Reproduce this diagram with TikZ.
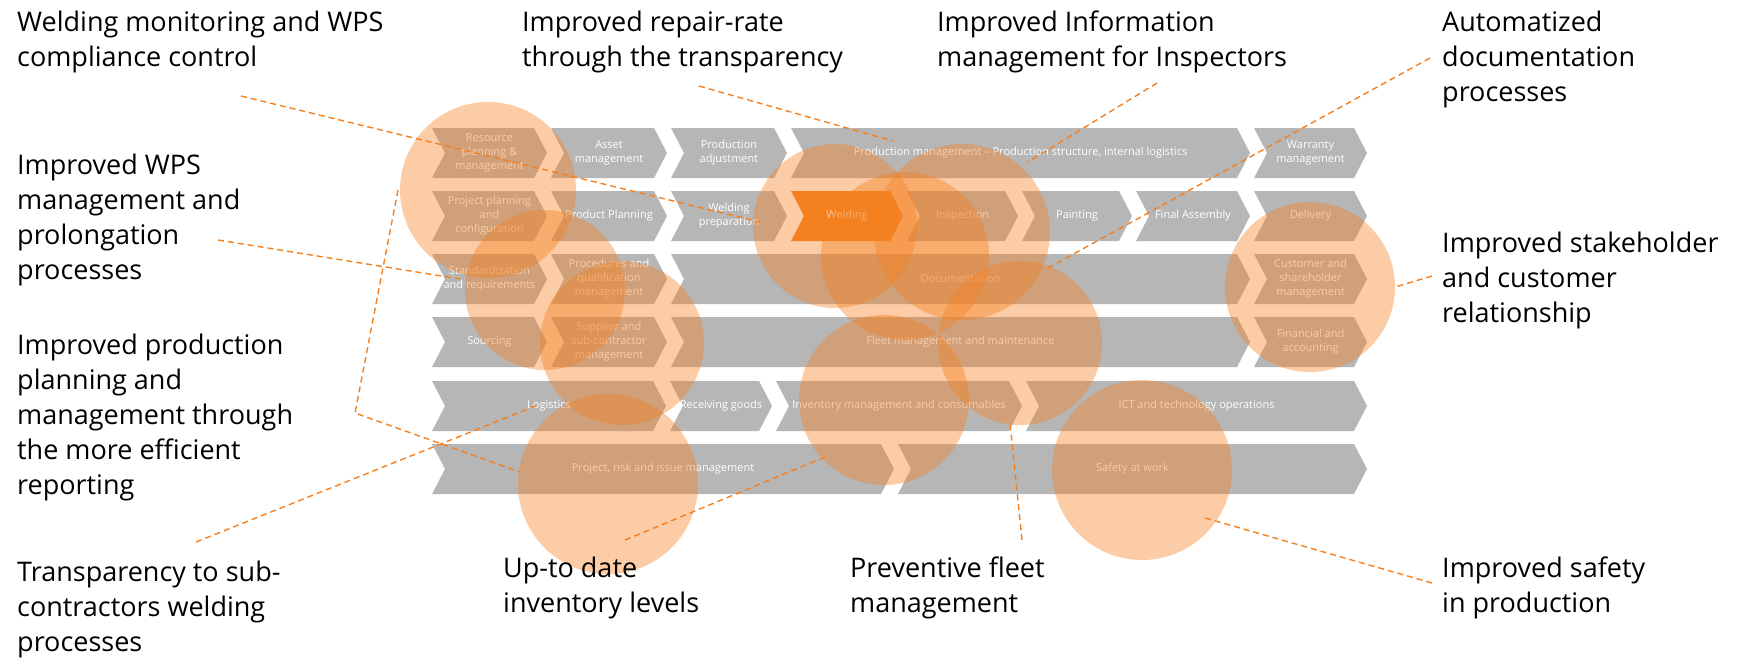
\documentclass[tikz,border=0pt]{standalone}
\usepackage{fontspec}
\setmainfont{Open Sans}
\usetikzlibrary{positioning}
\definecolor{chevgray}{RGB}{182,182,182}
\definecolor{weldorange}{RGB}{245,128,32}

% one process step: [colour] name, left x, tip x, row y, text
\newcommand{\processstep}[6][chevgray]{%
  \fill[#1] (#3,#5-25) -- (#4-13,#5-25) -- (#4,#5) -- (#4-13,#5+25) -- (#3,#5+25) -- (#3+13,#5) -- cycle;
  \node[steptext] (#2) at ({(#3+#4)/2},#5) {#6};}

\begin{document}
\begin{tikzpicture}[
    x=1pt, y=-1pt,
    steptext/.style={text=white, font=\fontsize{11}{14}\selectfont, align=center, inner sep=0pt},
    benefit/.style={font=\fontsize{27}{35}\selectfont, align=left, anchor=north west, inner sep=0pt},
    hotspot/.style={circle, fill=weldorange, fill opacity=0.4, inner sep=0pt, minimum size=#1},
    leader/.style={draw=weldorange, line width=1.4pt, dash pattern=on 6pt off 4pt},
]
\useasboundingbox (0,0) rectangle (1742,657);
\fill[white] (0,0) rectangle (1742,657);

% Process map rows
\processstep{resource}{432}{547}{153}{Resource\\planning \&\\management}
\processstep{asset}{551}{667}{153}{Asset\\management}
\processstep{prodadjust}{671}{787}{153}{Production\\adjustment}
\processstep{prodmgmt}{791}{1250}{153}{Production management -- Production structure, internal logistics}
\processstep{warranty}{1254}{1367}{153}{Warranty\\management}

\processstep{projplan}{432}{547}{216}{Project planning\\and\\configuration}
\processstep{prodplan}{551}{667}{216}{Product Planning}
\processstep{weldprep}{671}{787}{216}{Welding\\preparation}
\processstep[weldorange]{welding}{791}{903}{216}{Welding}
\processstep{inspection}{907}{1018}{216}{Inspection}
\processstep{painting}{1022}{1132}{216}{Painting}
\processstep{assembly}{1136}{1250}{216}{Final Assembly}
\processstep{delivery}{1254}{1367}{216}{Delivery}

\processstep{standard}{432}{547}{279}{Standardization\\and requirements}
\processstep{procedures}{551}{667}{279}{Procedures and\\qualification\\management}
\processstep{documentation}{671}{1250}{279}{Documentation}
\processstep{customer}{1254}{1367}{279}{Customer and\\shareholder\\management}

\processstep{sourcing}{432}{547}{342}{Sourcing}
\processstep{supplier}{551}{667}{342}{Supplier and\\sub-contractor\\management}
\processstep{fleet}{671}{1250}{342}{Fleet management and maintenance}
\processstep{financial}{1254}{1367}{342}{Financial and\\accounting}

\processstep{logistics}{432}{666}{406}{Logistics}
\processstep{receiving}{670}{772}{406}{Receiving goods}
\processstep{inventory}{776}{1022}{406}{Inventory management and consumables}
\processstep{ict}{1026}{1367}{406}{ICT and technology operations}

\processstep{projrisk}{432}{894}{469}{Project, risk and issue management}
\processstep{safety}{898}{1367}{469}{Safety at work}

% Highlighted areas
\node[hotspot=176pt] (spotresource) at (488,190) {};
\node[hotspot=160pt] (spotprocedures) at (545,290) {};
\node[hotspot=164pt] (spotsupplier) at (622,343) {};
\node[hotspot=180pt] (spotprojrisk) at (608,484) {};
\node[hotspot=164pt] (spotwelding) at (835,226) {};
\node[hotspot=168pt] (spotdocumentation) at (905,256) {};
\node[hotspot=176pt] (spotinspection) at (962,232) {};
\node[hotspot=164pt] (spotfleet) at (1020,343) {};
\node[hotspot=170pt] (spotinventory) at (884,400) {};
\node[hotspot=180pt] (spotsafety) at (1142,470) {};
\node[hotspot=170pt] (spotcustomer) at (1310,287) {};

% Benefits
\node[benefit] (monitoring) at (17,11) {Welding monitoring and WPS\\compliance control};
\node[benefit] (repairrate) at (522,11) {Improved repair-rate\\through the transparency};
\node[benefit] (information) at (937,11) {Improved Information\\management for Inspectors};
\node[benefit] (automatized) at (1442,11) {Automatized\\documentation\\processes};
\node[benefit] (wpsmgmt) at (17,154) {Improved WPS\\management and\\prolongation\\processes};
\node[benefit] (stakeholder) at (1442,232) {Improved stakeholder\\and customer\\relationship};
\node[benefit] (reporting) at (17,334) {Improved production\\planning and\\management through\\the more efficient\\reporting};
\node[benefit] (transparency) at (17,561) {Transparency to sub-\\contractors welding\\processes};
\node[benefit] (uptodate) at (503,557) {Up-to date\\inventory levels};
\node[benefit] (preventive) at (850,557) {Preventive fleet\\management};
\node[benefit] (safetylbl) at (1442,557) {Improved safety\\in production};

% Leader ends
\coordinate (monitoring-a) at (241,96);
\coordinate (monitoring-b) at (760,222);
\coordinate (repairrate-a) at (699,86);
\coordinate (repairrate-b) at (893,141);
\coordinate (information-a) at (1157,83);
\coordinate (information-b) at (1028,162);
\coordinate (automatized-a) at (1430,58);
\coordinate (automatized-b) at (1048,268);
\coordinate (wpsmgmt-a) at (218,240);
\coordinate (wpsmgmt-b) at (460,279);
\coordinate (reporting-a) at (398,190);
\coordinate (reporting-k) at (355,413);
\coordinate (reporting-b) at (520,472);
\coordinate (transparency-a) at (196,542);
\coordinate (transparency-b) at (538,405);
\coordinate (uptodate-a) at (625,540);
\coordinate (uptodate-b) at (825,457);
\coordinate (preventive-a) at (1022,540);
\coordinate (preventive-b) at (1010,423);
\coordinate (safety-a) at (1432,583);
\coordinate (safety-b) at (1205,518);
\coordinate (stakeholder-a) at (1432,276);

% Leaders
\draw[leader] (monitoring-a) -- (monitoring-b);
\draw[leader] (repairrate-a) -- (repairrate-b);
\draw[leader] (information-a) -- (information-b);
\draw[leader] (automatized-a) -- (automatized-b);
\draw[leader] (wpsmgmt-a) -- (wpsmgmt-b);
\draw[leader] (reporting-a) -- (reporting-k) -- (reporting-b);
\draw[leader] (transparency-a) -- (transparency-b);
\draw[leader] (uptodate-a) -- (uptodate-b);
\draw[leader] (preventive-a) -- (preventive-b);
\draw[leader] (safety-a) -- (safety-b);
\draw[leader] (stakeholder-a) -- (spotcustomer.east);

\end{tikzpicture}
\end{document}
